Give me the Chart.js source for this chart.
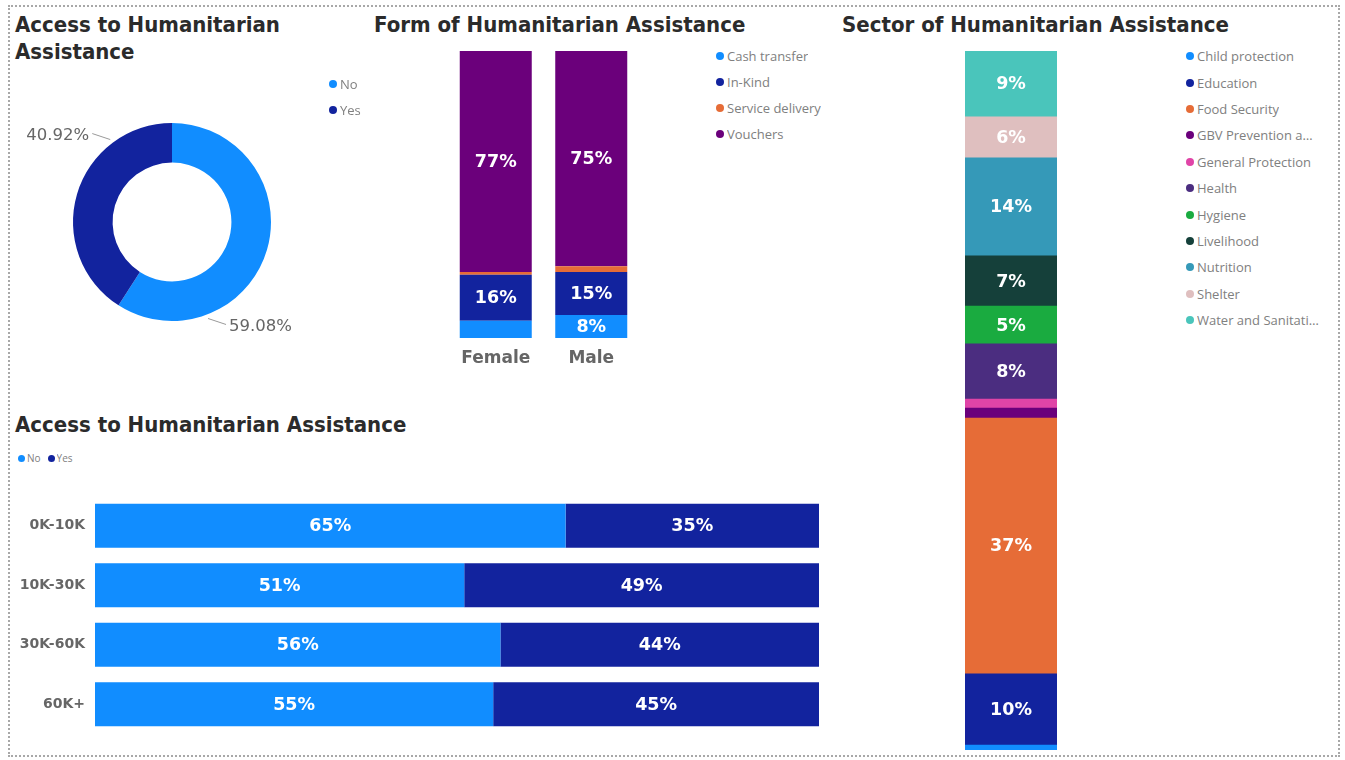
<!DOCTYPE html>
<html>
<head>
<meta charset="utf-8">
<title>Humanitarian Assistance</title>
<script src="https://cdn.jsdelivr.net/npm/chart.js@4.4.1/dist/chart.umd.min.js"></script>
<style>
  html, body { margin: 0; padding: 0; background: #fff; }
  #page { position: relative; width: 1345px; height: 760px; overflow: hidden; }
  #frame {
    position: absolute; left: 8px; top: 5px; width: 1328px; height: 748px;
    border: 2px dotted #a8a8a8;
  }
  .title {
    position: absolute; color: #2b2b2b;
    font: bold 22px/27px "DejaVu Sans Condensed", "DejaVu Sans", sans-serif;
    font-stretch: condensed; white-space: nowrap;
  }
  canvas { position: absolute; }
  .legend {
    position: absolute; font: 13px "Open Sans", sans-serif; color: #808080;
  }
  .legend .item { display: flex; align-items: center; height: 26px; white-space: nowrap; }
  .legend .dot { width: 8px; height: 8px; border-radius: 50%; margin-right: 3px; flex: none; }
  .legend .txt { overflow: hidden; text-overflow: ellipsis; }
  .legend.row { display: flex; font-size: 10px; }
  .legend.row .item { height: 14px; margin-right: 7px; }
  .legend.row .dot { width: 7px; height: 7px; margin-right: 2px; }
</style>
</head>
<body>
<div id="page">
  <div id="frame"></div>

  <div class="title" style="left:15px; top:11px;">Access to Humanitarian<br>Assistance</div>
  <div class="title" style="left:374px; top:11px;">Form of Humanitarian Assistance</div>
  <div class="title" style="left:842px; top:11px;">Sector of Humanitarian Assistance</div>
  <div class="title" style="left:15px; top:411px;">Access to Humanitarian Assistance</div>

  <canvas id="accessDonut" width="324" height="250" style="left:10px; top:100px;"></canvas>
  <div class="legend" id="accessLegend" style="left:329px; top:71px;"></div>

  <canvas id="formChart" width="191" height="332" style="left:448px; top:40px;"></canvas>
  <div class="legend" id="formLegend" style="left:716px; top:43px;"></div>

  <canvas id="sectorChart" width="92" height="699" style="left:965px; top:51px;"></canvas>
  <div class="legend" id="sectorLegend" style="left:1186px; top:43px;"></div>

  <div class="legend row" id="incomeLegend" style="left:18px; top:451px;"></div>
  <canvas id="incomeChart" width="809" height="238" style="left:10px; top:496px;"></canvas>
</div>

<script>
// ---- data ----
const accessLabels = ['No', 'Yes'];
const accessValues = [59.08, 40.92];
const accessColors = ['#118DFF', '#12239E'];

const genderLabels = ['Female', 'Male'];
const formLabels = ['Cash transfer', 'In-Kind', 'Service delivery', 'Vouchers'];
const cashTransfer = [6, 8];
const inKind = [16, 15];
const serviceDelivery = [1, 2];
const vouchers = [77, 75];
const formColors = ['#118DFF', '#12239E', '#E66C37', '#6B007B'];

const sectorLabels = ['Child protection', 'Education', 'Food Security', 'GBV Prevention and Response',
  'General Protection', 'Health', 'Hygiene', 'Livelihood', 'Nutrition', 'Shelter', 'Water and Sanitation'];
const sectorValues = [0.7, 10.2, 36.6, 1.4, 1.3, 7.9, 5.4, 7.2, 14.0, 5.9, 9.4];
const sectorColors = ['#118DFF', '#12239E', '#E66C37', '#6B007B', '#E044A7', '#4B2D80',
  '#1AAB40', '#15403A', '#3599B8', '#DFBFBF', '#4AC5BB'];

const incomeGroups = ['0K-10K', '10K-30K', '30K-60K', '60K+'];
const incomeNo = [65, 51, 56, 55];
const incomeYes = [35, 49, 44, 45];

// ---- html legends ----
function buildLegend(id, labels, colors, opts = {}) {
  const box = document.getElementById(id);
  labels.forEach((label, i) => {
    const item = document.createElement('div');
    item.className = 'item';
    if (opts.rowHeight) item.style.height = opts.rowHeight + 'px';
    const dot = document.createElement('span');
    dot.className = 'dot';
    dot.style.background = colors[i];
    const txt = document.createElement('span');
    txt.className = 'txt';
    txt.textContent = label;
    if (opts.maxWidth) txt.style.maxWidth = opts.maxWidth + 'px';
    item.appendChild(dot);
    item.appendChild(txt);
    box.appendChild(item);
  });
}

buildLegend('accessLegend', accessLabels, accessColors);
buildLegend('formLegend', formLabels, formColors);
buildLegend('sectorLegend', sectorLabels, sectorColors, { rowHeight: 26.4, maxWidth: 122 });
buildLegend('incomeLegend', accessLabels, accessColors);

// ---- plugins ----
// writes the rounded percentage in the middle of each stacked segment that is big enough
const segmentLabels = {
  id: 'segmentLabels',
  afterDatasetsDraw(chart, args, opts) {
    const ctx = chart.ctx;
    const horizontal = chart.options.indexAxis === 'y';
    ctx.save();
    ctx.font = opts.font;
    ctx.fillStyle = opts.color;
    ctx.textAlign = 'center';
    ctx.textBaseline = 'middle';
    chart.data.datasets.forEach((ds, i) => {
      const meta = chart.getDatasetMeta(i);
      meta.data.forEach((bar, j) => {
        const p = bar.getProps(['x', 'y', 'base'], true);
        const size = horizontal ? Math.abs(p.x - p.base) : Math.abs(p.base - p.y);
        if (size < opts.minSize) return;
        const cx = horizontal ? (p.x + p.base) / 2 : p.x;
        const cy = horizontal ? p.y : (p.y + p.base) / 2;
        ctx.fillText(Math.round(ds.data[j]) + '%', cx, cy + 1);
      });
    });
    ctx.restore();
  }
};

// outside labels with a short leader line for the doughnut
const arcLabels = {
  id: 'arcLabels',
  afterDatasetsDraw(chart) {
    const ctx = chart.ctx;
    const meta = chart.getDatasetMeta(0);
    const values = chart.data.datasets[0].data;
    ctx.save();
    ctx.font = '16.5px "DejaVu Sans", sans-serif';
    ctx.fillStyle = '#666';
    ctx.strokeStyle = '#9a9a9a';
    ctx.lineWidth = 1;
    ctx.textBaseline = 'middle';
    meta.data.forEach((arc, i) => {
      const p = arc.getProps(['x', 'y', 'startAngle', 'endAngle', 'outerRadius'], true);
      const a = p.startAngle + 0.75 * (p.endAngle - p.startAngle);
      const sx = p.x + Math.cos(a) * (p.outerRadius + 4);
      const sy = p.y + Math.sin(a) * (p.outerRadius + 4);
      const dirX = Math.cos(a) < 0 ? -1 : 1;
      const dirY = Math.sin(a) < 0 ? -1 : 1;
      const ex = sx + dirX * 18;
      const ey = sy + dirY * 6;
      ctx.beginPath();
      ctx.moveTo(sx, sy);
      ctx.lineTo(ex, ey);
      ctx.stroke();
      ctx.textAlign = dirX < 0 ? 'right' : 'left';
      ctx.fillText(values[i].toFixed(2) + '%', ex + dirX * 3, ey + 2);
    });
    ctx.restore();
  }
};

Chart.defaults.responsive = false;
Chart.defaults.animation = false;
Chart.defaults.plugins.legend.display = false;
Chart.defaults.plugins.tooltip.enabled = false;

const labelOpts = { font: 'bold 17.5px "DejaVu Sans", sans-serif', color: '#ffffff', minSize: 20 };

// ---- doughnut ----
new Chart(document.getElementById('accessDonut'), {
  type: 'doughnut',
  data: {
    labels: accessLabels,
    datasets: [{ data: accessValues, backgroundColor: accessColors, borderWidth: 0 }]
  },
  options: {
    cutout: '60%',
    layout: { padding: { left: 63, right: 63, top: 23, bottom: 29 } }
  },
  plugins: [arcLabels]
});

// ---- form of assistance (stacked columns) ----
const formSeries = [cashTransfer, inKind, serviceDelivery, vouchers];
new Chart(document.getElementById('formChart'), {
  type: 'bar',
  data: {
    labels: genderLabels,
    datasets: formLabels.map((name, i) => ({
      label: name,
      data: formSeries[i],
      backgroundColor: formColors[i],
      borderWidth: 0,
      barPercentage: 0.754,
      categoryPercentage: 1
    }))
  },
  options: {
    layout: { padding: { top: 11 } },
    scales: {
      x: {
        stacked: true,
        grid: { display: false, drawTicks: false },
        border: { display: false },
        ticks: { padding: 10, color: '#666', font: { family: 'DejaVu Sans', weight: 'bold', size: 17 } },
        afterFit: s => { s.height = 34; s.paddingLeft = 0; s.paddingRight = 0; }
      },
      y: { stacked: true, min: 0, max: 100, display: false }
    },
    plugins: { segmentLabels: labelOpts }
  },
  plugins: [segmentLabels]
});

// ---- sector of assistance (single stacked column) ----
new Chart(document.getElementById('sectorChart'), {
  type: 'bar',
  data: {
    labels: ['All'],
    datasets: sectorLabels.map((name, i) => ({
      label: name,
      data: [sectorValues[i]],
      backgroundColor: sectorColors[i],
      borderWidth: 0,
      barPercentage: 1,
      categoryPercentage: 1
    }))
  },
  options: {
    scales: {
      x: { stacked: true, display: false },
      y: { stacked: true, min: 0, max: 100, display: false }
    },
    plugins: { segmentLabels: labelOpts }
  },
  plugins: [segmentLabels]
});

// ---- access by income group (100% stacked bars) ----
new Chart(document.getElementById('incomeChart'), {
  type: 'bar',
  data: {
    labels: incomeGroups,
    datasets: [
      { label: accessLabels[0], data: incomeNo, backgroundColor: accessColors[0] },
      { label: accessLabels[1], data: incomeYes, backgroundColor: accessColors[1] }
    ].map(d => Object.assign(d, { borderWidth: 0, barPercentage: 0.74, categoryPercentage: 1 }))
  },
  options: {
    indexAxis: 'y',
    scales: {
      x: { stacked: true, min: 0, max: 100, display: false },
      y: {
        stacked: true,
        grid: { display: false, drawTicks: false },
        border: { display: false },
        ticks: { padding: 10, color: '#666', font: { family: 'DejaVu Sans', weight: 'bold', size: 14 } },
        // category labels sit mid-band, so no extra room is needed above/below
        afterFit: s => { s.width = 85; s.paddingTop = 0; s.paddingBottom = 0; }
      }
    },
    plugins: { segmentLabels: labelOpts }
  },
  plugins: [segmentLabels]
});
</script>
</body>
</html>
